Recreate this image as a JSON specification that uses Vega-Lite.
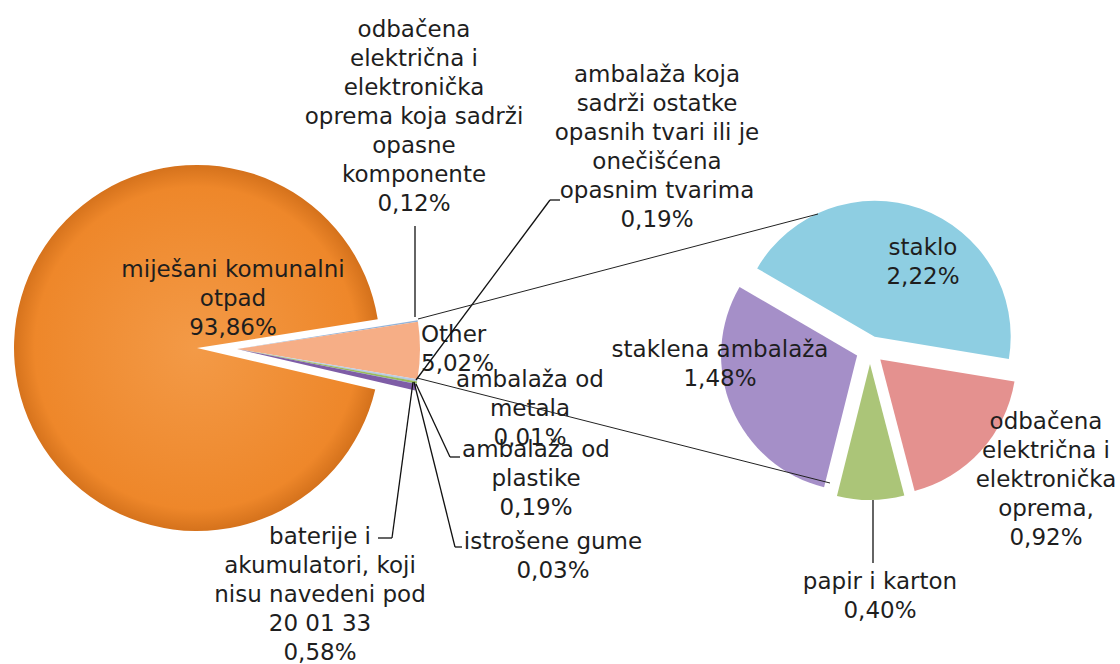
{
  "$schema": "https://vega.github.io/schema/vega-lite/v6.json",
  "width": 1120,
  "height": 664,
  "padding": 0,
  "autosize": {"type": "none"},
  "background": "white",
  "config": {"view": {"stroke": null}, "text": {"font": "DejaVu Sans", "fontSize": 23, "lineHeight": 29, "lineBreak": "\n", "color": "#1e1e1e"}},
  "resolve": {"scale": {"theta": "independent"}},
  "layer": [
    {
      "data": {"values": [
        {"idx": 1, "name": "odbačena električna i elektronička oprema koja sadrži opasne komponente", "label": "odbačena\nelektrična i\nelektronička\noprema koja sadrži\nopasne\nkomponente\n0,12%", "value": 0.12},
        {"idx": 2, "name": "Other", "label": "Other\n5,02%", "value": 5.02},
        {"idx": 3, "name": "ambalaža koja sadrži ostatke opasnih tvari ili je onečišćena opasnim tvarima", "label": "ambalaža koja\nsadrži ostatke\nopasnih tvari ili je\nonečišćena\nopasnim tvarima\n0,19%", "value": 0.19},
        {"idx": 4, "name": "ambalaža od metala", "label": "ambalaža od\nmetala\n0,01%", "value": 0.01},
        {"idx": 5, "name": "ambalaža od plastike", "label": "ambalaža od\nplastike\n0,19%", "value": 0.19},
        {"idx": 6, "name": "istrošene gume", "label": "istrošene gume\n0,03%", "value": 0.03},
        {"idx": 7, "name": "baterije i akumulatori, koji nisu navedeni pod 20 01 33", "label": "baterije i\nakumulatori, koji\nnisu navedeni pod\n20 01 33\n0,58%", "value": 0.58},
        {"idx": 8, "name": "miješani komunalni otpad", "label": "miješani komunalni\notpad\n93,86%", "value": 93.86}
      ]},
      "encoding": {
        "x": {"datum": 197, "type": "quantitative", "scale": {"domain": [0, 1120], "nice": false, "zero": false}, "axis": null},
        "y": {"datum": 348, "type": "quantitative", "scale": {"domain": [0, 664], "nice": false, "zero": false, "reverse": true}, "axis": null}
      },
      "layer": [
        {
          "mark": {"type": "arc", "radius": 183, "color": {"gradient": "radial", "x1": 0.5, "y1": 0.5, "r1": 0, "x2": 0.5, "y2": 0.5, "r2": 0.5, "stops": [{"offset": 0, "color": "#F39A47"}, {"offset": 0.88, "color": "#EE872A"}, {"offset": 1, "color": "#D5721C"}]}},
          "encoding": {
            "theta": {"field": "value", "type": "quantitative", "stack": true, "scale": {"range": [1.41372, 7.6969]}},
            "order": {"field": "idx", "type": "quantitative"},
            "detail": {"field": "name", "type": "nominal"},
            "opacity": {"condition": {"test": "datum.idx == 8", "value": 1}, "value": 0}
          }
        },
        {
          "mark": {"type": "arc", "radius": 183, "xOffset": 40, "yOffset": 1},
          "encoding": {
            "theta": {"field": "value", "type": "quantitative", "stack": true, "scale": {"range": [1.41372, 7.6969]}},
            "order": {"field": "idx", "type": "quantitative"},
            "detail": {"field": "name", "type": "nominal"},
            "color": {"field": "idx", "type": "nominal", "scale": {"domain": [1, 2, 3, 4, 5, 6, 7, 8], "range": ["#93B4DA", "#F6AE86", "#B7CCE4", "#5B86BE", "#9BBB59", "#4BACC6", "#7E5DA6", "#F08A2E"]}, "legend": null},
            "opacity": {"condition": {"test": "datum.idx < 8", "value": 1}, "value": 0}
          }
        },
        {"transform": [{"filter": "datum.idx == 8"}], "mark": {"type": "text", "dx": 36, "dy": -78}, "encoding": {"text": {"field": "label"}}},
        {"transform": [{"filter": "datum.idx == 1"}], "mark": {"type": "text", "dx": 217, "dy": -318}, "encoding": {"text": {"field": "label"}}},
        {"transform": [{"filter": "datum.idx == 3"}], "mark": {"type": "text", "dx": 460, "dy": -273}, "encoding": {"text": {"field": "label"}}},
        {"transform": [{"filter": "datum.idx == 2"}], "mark": {"type": "text", "align": "left", "dx": 224, "dy": -13}, "encoding": {"text": {"field": "label"}}},
        {"transform": [{"filter": "datum.idx == 4"}], "mark": {"type": "text", "dx": 333, "dy": 32}, "encoding": {"text": {"field": "label"}}},
        {"transform": [{"filter": "datum.idx == 5"}], "mark": {"type": "text", "dx": 339, "dy": 102}, "encoding": {"text": {"field": "label"}}},
        {"transform": [{"filter": "datum.idx == 6"}], "mark": {"type": "text", "dx": 356, "dy": 194}, "encoding": {"text": {"field": "label"}}},
        {"transform": [{"filter": "datum.idx == 7"}], "mark": {"type": "text", "dx": 123, "dy": 189}, "encoding": {"text": {"field": "label"}}}
      ]
    },
    {
      "data": {"values": [
        {"idx": 1, "name": "staklo", "label": "staklo\n2,22%", "value": 2.22},
        {"idx": 2, "name": "odbačena električna i elektronička oprema", "label": "odbačena\nelektrična i\nelektronička\noprema,\n0,92%", "value": 0.92},
        {"idx": 3, "name": "papir i karton", "label": "papir i karton\n0,40%", "value": 0.40},
        {"idx": 4, "name": "staklena ambalaža", "label": "staklena ambalaža\n1,48%", "value": 1.48}
      ]},
      "encoding": {
        "x": {"datum": 870, "type": "quantitative", "scale": {"domain": [0, 1120], "nice": false, "zero": false}, "axis": null},
        "y": {"datum": 350, "type": "quantitative", "scale": {"domain": [0, 664], "nice": false, "zero": false, "reverse": true}, "axis": null}
      },
      "layer": [
        {
          "mark": {"type": "arc", "radius": 136, "xOffset": 4.7, "yOffset": -13.2, "color": "#8ECEE2"},
          "encoding": {
            "theta": {"field": "value", "type": "quantitative", "stack": true, "scale": {"range": [-1.0437, 5.23949]}},
            "order": {"field": "idx", "type": "quantitative"},
            "detail": {"field": "name", "type": "nominal"},
            "opacity": {"condition": {"test": "datum.idx == 1", "value": 1}, "value": 0}
          }
        },
        {
          "mark": {"type": "arc", "radius": 136, "xOffset": 10.3, "yOffset": 9.4, "color": "#E4918F"},
          "encoding": {
            "theta": {"field": "value", "type": "quantitative", "stack": true, "scale": {"range": [-1.0437, 5.23949]}},
            "order": {"field": "idx", "type": "quantitative"},
            "detail": {"field": "name", "type": "nominal"},
            "opacity": {"condition": {"test": "datum.idx == 2", "value": 1}, "value": 0}
          }
        },
        {
          "mark": {"type": "arc", "radius": 136, "xOffset": 0, "yOffset": 14, "color": "#ABC578"},
          "encoding": {
            "theta": {"field": "value", "type": "quantitative", "stack": true, "scale": {"range": [-1.0437, 5.23949]}},
            "order": {"field": "idx", "type": "quantitative"},
            "detail": {"field": "name", "type": "nominal"},
            "opacity": {"condition": {"test": "datum.idx == 3", "value": 1}, "value": 0}
          }
        },
        {
          "mark": {"type": "arc", "radius": 136, "xOffset": -12.9, "yOffset": 5.4, "color": "#A58FC8"},
          "encoding": {
            "theta": {"field": "value", "type": "quantitative", "stack": true, "scale": {"range": [-1.0437, 5.23949]}},
            "order": {"field": "idx", "type": "quantitative"},
            "detail": {"field": "name", "type": "nominal"},
            "opacity": {"condition": {"test": "datum.idx == 4", "value": 1}, "value": 0}
          }
        },
        {"transform": [{"filter": "datum.idx == 1"}], "mark": {"type": "text", "dx": 53, "dy": -102}, "encoding": {"text": {"field": "label"}}},
        {"transform": [{"filter": "datum.idx == 2"}], "mark": {"type": "text", "dx": 176, "dy": 72}, "encoding": {"text": {"field": "label"}}},
        {"transform": [{"filter": "datum.idx == 3"}], "mark": {"type": "text", "dx": 10, "dy": 232}, "encoding": {"text": {"field": "label"}}},
        {"transform": [{"filter": "datum.idx == 4"}], "mark": {"type": "text", "dx": -150, "dy": 0}, "encoding": {"text": {"field": "label"}}}
      ]
    },
    {
      "data": {"values": [{}]},
      "layer": [
        {"mark": {"type": "rule", "color": "#111111", "strokeWidth": 1.3}, "encoding": {"x": {"datum": 415, "type": "quantitative", "scale": {"domain": [0, 1120], "nice": false, "zero": false}, "axis": null}, "y": {"datum": 226, "type": "quantitative", "scale": {"domain": [0, 664], "nice": false, "zero": false, "reverse": true}, "axis": null}, "x2": {"datum": 415}, "y2": {"datum": 317}}},
        {"mark": {"type": "rule", "color": "#111111", "strokeWidth": 1.3}, "encoding": {"x": {"datum": 416, "type": "quantitative"}, "y": {"datum": 380, "type": "quantitative"}, "x2": {"datum": 550}, "y2": {"datum": 200}}},
        {"mark": {"type": "rule", "color": "#111111", "strokeWidth": 1.3}, "encoding": {"x": {"datum": 550, "type": "quantitative"}, "y": {"datum": 200, "type": "quantitative"}, "x2": {"datum": 560}, "y2": {"datum": 200}}},
        {"mark": {"type": "rule", "color": "#111111", "strokeWidth": 1.3}, "encoding": {"x": {"datum": 416, "type": "quantitative"}, "y": {"datum": 384, "type": "quantitative"}, "x2": {"datum": 450}, "y2": {"datum": 457}}},
        {"mark": {"type": "rule", "color": "#111111", "strokeWidth": 1.3}, "encoding": {"x": {"datum": 450, "type": "quantitative"}, "y": {"datum": 457, "type": "quantitative"}, "x2": {"datum": 460}, "y2": {"datum": 457}}},
        {"mark": {"type": "rule", "color": "#111111", "strokeWidth": 1.3}, "encoding": {"x": {"datum": 414, "type": "quantitative"}, "y": {"datum": 382, "type": "quantitative"}, "x2": {"datum": 455}, "y2": {"datum": 547}}},
        {"mark": {"type": "rule", "color": "#111111", "strokeWidth": 1.3}, "encoding": {"x": {"datum": 455, "type": "quantitative"}, "y": {"datum": 547, "type": "quantitative"}, "x2": {"datum": 462}, "y2": {"datum": 547}}},
        {"mark": {"type": "rule", "color": "#111111", "strokeWidth": 1.3}, "encoding": {"x": {"datum": 413, "type": "quantitative"}, "y": {"datum": 382, "type": "quantitative"}, "x2": {"datum": 392}, "y2": {"datum": 538}}},
        {"mark": {"type": "rule", "color": "#111111", "strokeWidth": 1.3}, "encoding": {"x": {"datum": 392, "type": "quantitative"}, "y": {"datum": 538, "type": "quantitative"}, "x2": {"datum": 378}, "y2": {"datum": 538}}},
        {"mark": {"type": "rule", "color": "#111111", "strokeWidth": 1.3}, "encoding": {"x": {"datum": 873, "type": "quantitative"}, "y": {"datum": 500, "type": "quantitative"}, "x2": {"datum": 873}, "y2": {"datum": 563}}},
        {"mark": {"type": "rule", "color": "#222222", "strokeWidth": 1}, "encoding": {"x": {"datum": 418, "type": "quantitative"}, "y": {"datum": 319, "type": "quantitative"}, "x2": {"datum": 818}, "y2": {"datum": 214}}},
        {"mark": {"type": "rule", "color": "#222222", "strokeWidth": 1}, "encoding": {"x": {"datum": 417, "type": "quantitative"}, "y": {"datum": 378, "type": "quantitative"}, "x2": {"datum": 830}, "y2": {"datum": 483}}}
      ]
    }
  ]
}
